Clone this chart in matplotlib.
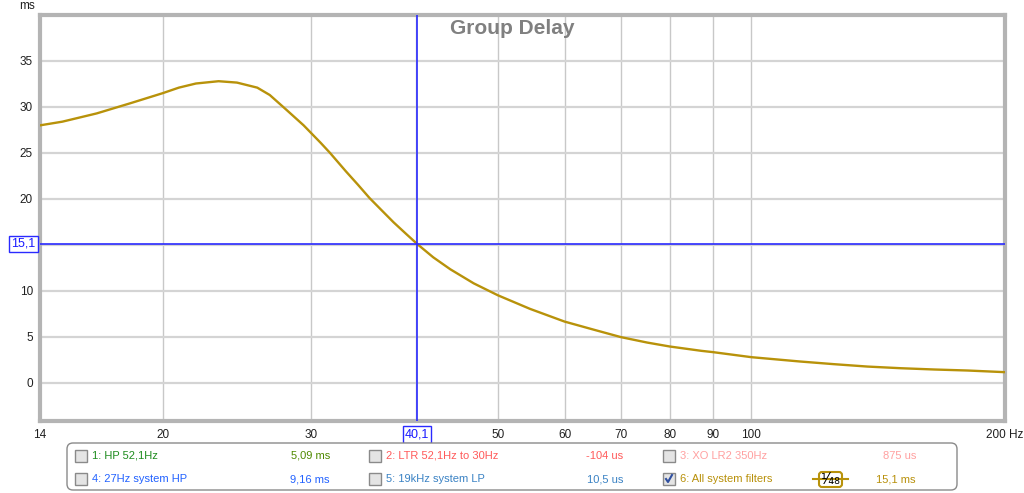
import numpy as np
import matplotlib
matplotlib.use("Agg")
import matplotlib.pyplot as plt
from matplotlib.patches import FancyBboxPatch, Rectangle
from matplotlib.transforms import blended_transform_factory

plt.rcParams['font.family'] = ['Liberation Sans', 'DejaVu Sans']

# group delay of "All system filters"
freq_hz = [14.3, 15.2, 16.7, 18.3, 20.0, 20.9, 21.9, 23.3, 24.5, 25.9, 26.8,
           28.0, 29.4, 30.8, 31.6, 33.0, 34.1, 35.2, 36.4, 37.6, 38.9, 40.1,
           41.9, 43.9, 46.8, 50.0, 54.6, 60.0, 65.1, 70.0, 75.2, 80.0, 87.2,
           90.0, 100.0, 114.2, 125.3, 137.3, 150.4, 164.9, 180.6, 200.0]
delay_ms = [28.0, 28.4, 29.3, 30.4, 31.5, 32.1, 32.55, 32.8, 32.65, 32.1, 31.3,
            29.75, 28.0, 26.1, 25.0, 23.0, 21.55, 20.1, 18.75, 17.45, 16.2, 15.1,
            13.65, 12.35, 10.82, 9.52, 8.04, 6.66, 5.76, 4.97, 4.38, 3.95, 3.48,
            3.34, 2.79, 2.32, 2.03, 1.77, 1.59, 1.45, 1.34, 1.16]

x_ticks = [14.3, 20, 30, 50, 60, 70, 80, 90, 100, 200]
x_tick_labels = ['14', '20', '30', '50', '60', '70', '80', '90', '100', '200 Hz']
x_grid = [20, 30, 40, 50, 60, 70, 80, 90, 100]
y_grid = [0, 5, 10, 15, 20, 25, 30, 35]
y_ticks = [0, 5, 10, 20, 25, 30, 35]

cursor_f = 40.1
cursor_v = 15.1

legend_rows = [
    [("1: HP 52,1Hz", "5,09 ms", '#1e8c1e', '#4f8a00', False),
     ("2: LTR 52,1Hz to 30Hz", "-104 us", '#ff5a5a', '#ff5a5a', False),
     ("3: XO LR2 350Hz", "875 us", '#ffa0a0', '#ffa0a0', False)],
    [("4: 27Hz system HP", "9,16 ms", '#2262ff', '#2262ff', False),
     ("5: 19kHz system LP", "10,5 us", '#3a82c4', '#3a82c4', False),
     ("6: All system filters", "15,1 ms", '#b8900a', '#b8900a', True)],
]

curve_color = '#b8920a'
cursor_color = '#2a2aff'

W, H = 1024, 493
fig = plt.figure(figsize=(W / 100, H / 100), dpi=100)
ax = fig.add_axes([40 / W, (H - 421) / H, (1005 - 40) / W, (421 - 15) / H])

ax.set_xscale('log')
ax.set_xlim(14.3, 200)
ax.set_ylim(-4.15, 40)

for f in x_grid:
    ax.axvline(f, color='#c8c8c8', lw=1.0, zorder=1)
for v in y_grid:
    ax.axhline(v, color='#d4d4d4', lw=1.6, zorder=1)

ax.plot(freq_hz, delay_ms, color=curve_color, lw=1.7, zorder=3,
        solid_joinstyle='round')

ax.axvline(cursor_f, color=cursor_color, lw=1.2, zorder=4)
ax.axhline(cursor_v, color=cursor_color, lw=1.2, zorder=4)

ax.xaxis.set_minor_locator(matplotlib.ticker.NullLocator())
ax.set_xticks(x_ticks)
ax.set_xticklabels(x_tick_labels)
ax.set_yticks(y_ticks)
ax.set_yticklabels([str(v) for v in y_ticks])
ax.tick_params(axis='both', length=0, labelsize=8.5, colors='#202020')
ax.tick_params(axis='x', pad=6)
ax.tick_params(axis='y', pad=5)
for s in ax.spines.values():
    s.set_color('#b4b4b4')
    s.set_linewidth(3)

ax.text(0.489, 1 - 14 / 406, 'Group Delay', transform=ax.transAxes,
        ha='center', va='center', fontsize=15, fontweight='bold',
        color='#808080', zorder=5)

# cursor value boxes
box = dict(facecolor='white', edgecolor=cursor_color, lw=1, pad=1.5)
tx = blended_transform_factory(ax.transData, ax.transAxes)
ax.text(cursor_f, -0.033, '40,1', transform=tx, ha='center', va='center',
        fontsize=9, color='#1a1aff', bbox=box, zorder=6, clip_on=False)
ty = blended_transform_factory(ax.transAxes, ax.transData)
ax.text(-0.0171, cursor_v, '15,1', transform=ty, ha='center', va='center',
        fontsize=9, color='#1a1aff', bbox=box, zorder=6, clip_on=False)

# overlay in pixel space for the unit label and legend panel
ov = fig.add_axes([0, 0, 1, 1], facecolor='none')
ov.set_xlim(0, W)
ov.set_ylim(H, 0)
ov.axis('off')

ov.text(27, 6, 'ms', ha='center', va='center', fontsize=8.5, color='#202020')

ov.add_patch(FancyBboxPatch((67, 443), 890, 47,
                            boxstyle='round,pad=0,rounding_size=6',
                            facecolor='white', edgecolor='#8a8a8a', lw=1))

col_box = [81, 375, 669]
col_text = [92, 386, 680]
col_val = [330, 623, 916]
row_y = [456, 479]

for r, row in enumerate(legend_rows):
    y = row_y[r]
    for c, (label, val, lcol, vcol, checked) in enumerate(row):
        ov.add_patch(Rectangle((col_box[c] - 6, y - 6), 12, 12,
                               facecolor='#e4e4e4', edgecolor='#8a8a8a', lw=1))
        if checked:
            ov.plot([col_box[c] - 3, col_box[c] - 1, col_box[c] + 3],
                    [y, y + 3, y - 4], color='#3050a0', lw=1.5)
        ov.text(col_text[c], y, label, ha='left', va='center', fontsize=8,
                color=lcol)
        ov.text(col_val[c], y, val, ha='right', va='center', fontsize=8,
                color=vcol)

# line-style sample for the active trace
ov.plot([813, 848], [479, 479], color=curve_color, lw=1.5)
ov.add_patch(FancyBboxPatch((819, 472), 23, 15,
                            boxstyle='round,pad=0,rounding_size=3',
                            facecolor='white', edgecolor=curve_color, lw=1.5))
ov.text(830.5, 479.5, '¹⁄₄₈', ha='center', va='center',
        fontsize=10.5, color='black', family=['DejaVu Sans'])

fig.savefig('out.png', dpi=100)
